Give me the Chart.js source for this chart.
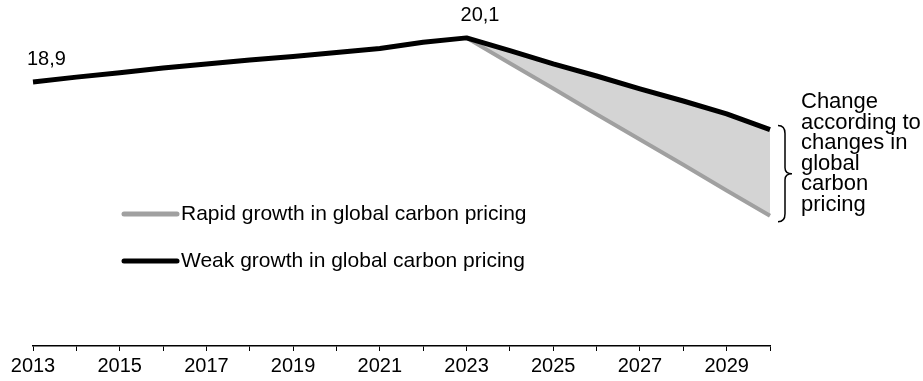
<!DOCTYPE html>
<html>
<head>
<meta charset="utf-8">
<script src="https://cdn.jsdelivr.net/npm/chart.js@4/dist/chart.umd.min.js"></script>
<style>
  html, body { margin: 0; padding: 0; background: #fff; }
  #wrap { width: 923px; height: 381px; }
</style>
</head>
<body>
<div id="wrap"><canvas id="chart" width="923" height="381"></canvas></div>
<script>
const years = ['2013', '2014', '2015', '2016', '2017', '2018', '2019', '2020', '2021',
               '2022', '2023', '2024', '2025', '2026', '2027', '2028', '2029', '2030'];
const weakGrowth = [18.9, 19.03, 19.15, 19.28, 19.39, 19.5, 19.59, 19.7, 19.81,
                    19.98, 20.1, 19.75, 19.39, 19.06, 18.71, 18.38, 18.03, 17.6];
const rapidGrowth = [null, null, null, null, null, null, null, null, null,
                     null, 20.1, 19.41, 18.72, 18.02, 17.33, 16.64, 15.94, 15.25];
const seriesNames = ['Rapid growth in global carbon pricing', 'Weak growth in global carbon pricing'];
const noteLines = ['Change', 'according to', 'changes in', 'global', 'carbon', 'pricing'];

const FAMILY = '"Liberation Sans", Arial, sans-serif';

// value labels, inline legend and the brace note on the right
const extras = {
  id: 'extras',
  afterDatasetsDraw(chart) {
    const { ctx, scales: { x, y } } = chart;
    ctx.save();
    ctx.fillStyle = '#000';
    ctx.textBaseline = 'middle';
    ctx.textAlign = 'left';

    // first value and the peak value
    ctx.font = '20px ' + FAMILY;
    const fmt = v => v.toFixed(1).replace('.', ',');
    const peak = years.indexOf('2023');
    [[0, weakGrowth[0]], [peak, weakGrowth[peak]]].forEach(([i, v]) => {
      ctx.fillText(fmt(v), x.getPixelForValue(i) - 6, y.getPixelForValue(v) - 22);
    });

    // legend
    ctx.font = '21px ' + FAMILY;
    const legend = [
      { name: seriesNames[0], color: '#a0a0a0', top: 214 },
      { name: seriesNames[1], color: '#000', top: 261 }
    ];
    legend.forEach(item => {
      ctx.strokeStyle = item.color;
      ctx.lineWidth = 5;
      ctx.lineCap = 'round';
      ctx.beginPath();
      ctx.moveTo(124, item.top);
      ctx.lineTo(177, item.top);
      ctx.stroke();
      ctx.fillText(item.name, 181, item.top);
    });

    // brace spanning the gap at the last year
    const last = years.length - 1;
    const y1 = y.getPixelForValue(weakGrowth[last]) - 4;
    const y2 = y.getPixelForValue(rapidGrowth[last]) + 6;
    const mid = (y1 + y2) / 2;
    const bx = x.getPixelForValue(last) + 8;
    const w = 14;
    ctx.strokeStyle = '#000';
    ctx.lineWidth = 1.5;
    ctx.lineCap = 'butt';
    ctx.beginPath();
    ctx.moveTo(bx, y1);
    ctx.quadraticCurveTo(bx + w / 2, y1, bx + w / 2, y1 + 8);
    ctx.lineTo(bx + w / 2, mid - 6);
    ctx.quadraticCurveTo(bx + w / 2, mid, bx + w, mid);
    ctx.quadraticCurveTo(bx + w / 2, mid, bx + w / 2, mid + 6);
    ctx.lineTo(bx + w / 2, y2 - 8);
    ctx.quadraticCurveTo(bx + w / 2, y2, bx, y2);
    ctx.stroke();

    ctx.font = '22px ' + FAMILY;
    noteLines.forEach((line, i) => {
      ctx.fillText(line, 801, 102 + i * 20.6);
    });
    ctx.restore();
  }
};

new Chart(document.getElementById('chart'), {
  type: 'line',
  data: {
    labels: years,
    datasets: [
      {
        label: seriesNames[0],
        data: rapidGrowth,
        borderColor: '#a0a0a0',
        backgroundColor: '#d4d4d4',
        borderWidth: 4,
        fill: '+1',
        pointRadius: 0,
        tension: 0,
        order: 1
      },
      {
        label: seriesNames[1],
        data: weakGrowth,
        borderColor: '#000',
        borderWidth: 5,
        fill: false,
        pointRadius: 0,
        tension: 0,
        borderJoinStyle: 'round',
        order: 0
      }
    ]
  },
  options: {
    responsive: false,
    animation: false,
    events: [],
    layout: { padding: { left: 33, right: 153, top: 10, bottom: 0 } },
    plugins: {
      legend: { display: false },
      tooltip: { enabled: false }
    },
    scales: {
      x: {
        offset: false,
        border: { color: '#000', width: 1.5 },
        grid: {
          drawOnChartArea: false,
          drawTicks: true,
          tickLength: 5,
          color: '#000',
          lineWidth: 1
        },
        ticks: {
          autoSkip: false,
          maxRotation: 0,
          padding: 3,
          color: '#000',
          font: { family: FAMILY, size: 20 },
          callback: (v, i) => (i % 2 === 0 && i < years.length - 1 ? years[i] : '')
        }
      },
      y: {
        display: false,
        min: 11.7,
        max: 20.86
      }
    }
  },
  plugins: [extras]
});
</script>
</body>
</html>
